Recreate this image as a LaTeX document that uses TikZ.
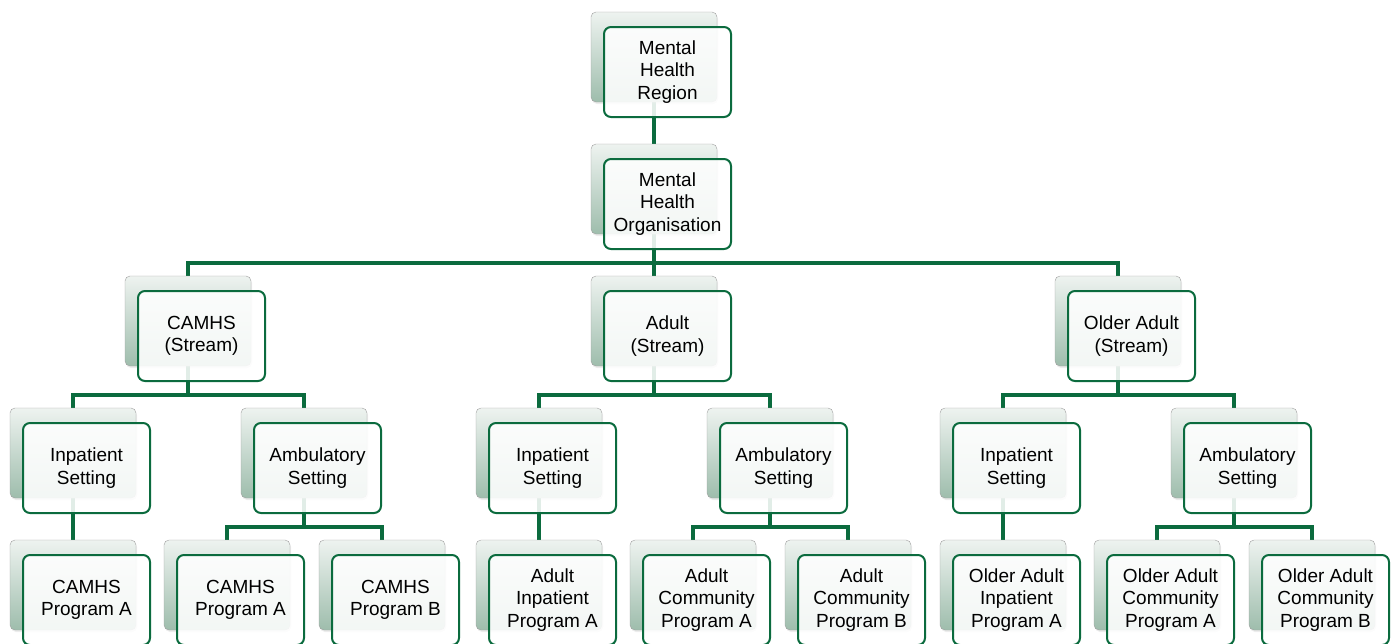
\documentclass[tikz,border=0pt]{standalone}
\usepackage{fontspec}
\setmainfont{Liberation Sans}
\usetikzlibrary{positioning, backgrounds, shadows}

\definecolor{mhgreen}{HTML}{0B6B3E}
\definecolor{backtop}{HTML}{EEF3F0}
\definecolor{backbot}{HTML}{9EBDAC}

\tikzset{
	backbox/.style={draw=gray!75, rounded corners=5pt, top color=backtop, bottom color=backbot,
		minimum width=126pt, minimum height=90pt, inner sep=0pt,
		drop shadow={opacity=0.15, shadow xshift=1pt, shadow yshift=-2pt}},
	frontbox/.style={draw=mhgreen, line width=2pt, rounded corners=7pt, fill=white,
		fill opacity=0.88, text opacity=1, minimum width=127pt, minimum height=90pt,
		inner sep=0pt, align=center, font=\fontsize{19}{22.5}\selectfont},
	link/.style={draw=mhgreen, line width=4pt}
}

% back card plus front card: name, x, y, text
\newcommand{\unitbox}[4]{
	\node[backbox] (#1-b) at (#2,#3) {};
	\node[frontbox] (#1) at ([xshift=13.5pt, yshift=-15pt]#1-b.center) {#4};
}

\begin{document}
\begin{tikzpicture}[x=1pt, y=-1pt]
			\def\drop{74};
			\useasboundingbox (0,0) rectangle (1397,643);

			\unitbox{reg}{654}{57}{Mental\\Health\\Region}
			\unitbox{org}{654}{189}{Mental\\Health\\Organisation}

			\foreach \n/\s/\head/\pin/\pa/\pb in {
				camhs/188/{CAMHS\\(Stream)}/{CAMHS\\Program A}/{CAMHS\\Program A}/{CAMHS\\Program B},
				adult/654/{Adult\\(Stream)}/{Adult\\Inpatient\\Program A}/{Adult\\Community\\Program A}/{Adult\\Community\\Program B},
				older/1118/{Older Adult\\(Stream)}/{Older Adult\\Inpatient\\Program A}/{Older Adult\\Community\\Program A}/{Older Adult\\Community\\Program B}}
			{
				\unitbox{\n}{\s}{321}{\head}
				\unitbox{\n-in}{\s-115}{453}{Inpatient\\Setting}
				\unitbox{\n-amb}{\s+116}{453}{Ambulatory\\Setting}
				\unitbox{\n-pin}{\s-115}{585}{\pin}
				\unitbox{\n-pa}{\s+39}{585}{\pa}
				\unitbox{\n-pb}{\s+194}{585}{\pb}

				\begin{scope}[on background layer]
					\draw[link] (org-b.center) -- ++(0,\drop) -| (\n-b.center);
					\draw[link] (\n-b.center) -- ++(0,\drop) -| (\n-in-b.center);
					\draw[link] (\n-b.center) -- ++(0,\drop) -| (\n-amb-b.center);
					\draw[link] (\n-in-b.center) -- (\n-pin-b.center);
					\draw[link] (\n-amb-b.center) -- ++(0,\drop) -| (\n-pa-b.center);
					\draw[link] (\n-amb-b.center) -- ++(0,\drop) -| (\n-pb-b.center);
				\end{scope}
			}

			\begin{scope}[on background layer]
				\draw[link] (reg-b.center) -- (org-b.center);
			\end{scope}
		\end{tikzpicture}
\end{document}
